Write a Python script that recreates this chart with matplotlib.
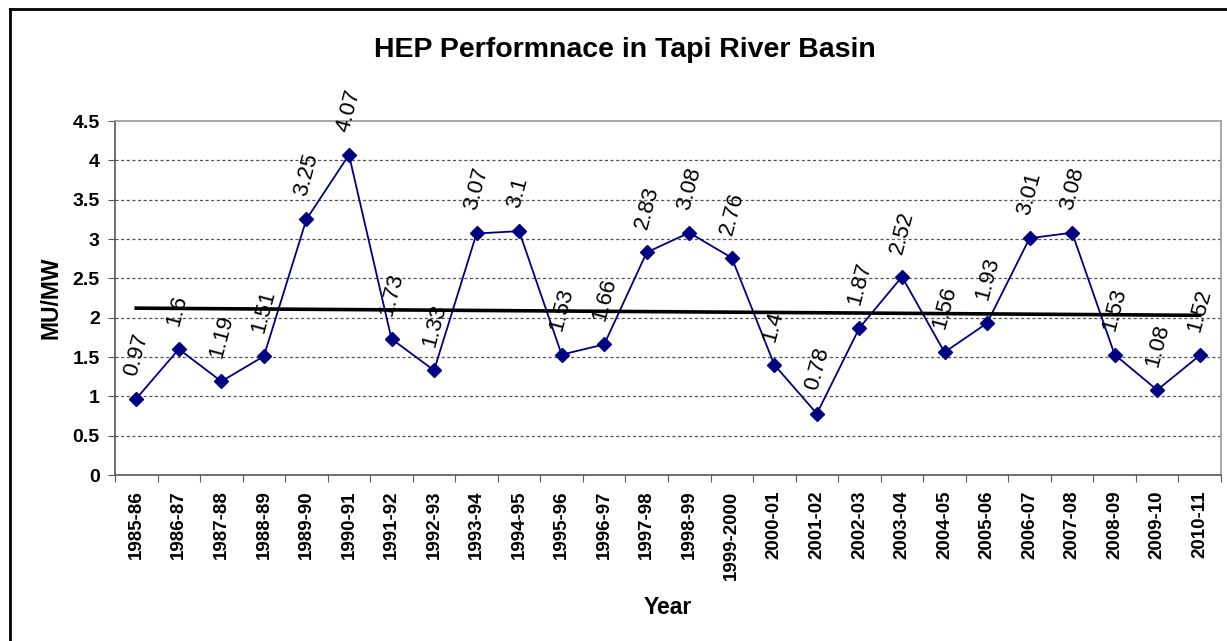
import numpy as np
import matplotlib.pyplot as plt
from matplotlib.lines import Line2D

plt.rcParams['font.family'] = ['Liberation Sans', 'DejaVu Sans']

# HEP performance data (MU/MW) per year
years = ["1985-86", "1986-87", "1987-88", "1988-89", "1989-90", "1990-91",
         "1991-92", "1992-93", "1993-94", "1994-95", "1995-96", "1996-97",
         "1997-98", "1998-99", "1999-2000", "2000-01", "2001-02", "2002-03",
         "2003-04", "2004-05", "2005-06", "2006-07", "2007-08", "2008-09",
         "2009-10", "2010-11"]
values = [0.97, 1.6, 1.19, 1.51, 3.25, 4.07, 1.73, 1.33, 3.07, 3.1, 1.53,
          1.66, 2.83, 3.08, 2.76, 1.4, 0.78, 1.87, 2.52, 1.56, 1.93, 3.01,
          3.08, 1.53, 1.08, 1.52]
labels = ["0.97", "1.6", "1.19", "1.51", "3.25", "4.07", "1.73", "1.33",
          "3.07", "3.1", "1.53", "1.66", "2.83", "3.08", "2.76", "1.4",
          "0.78", "1.87", "2.52", "1.56", "1.93", "3.01", "3.08", "1.53",
          "1.08", "1.52"]

W, H = 1227, 641
fig = plt.figure(figsize=(W / 100, H / 100), dpi=100)
ax = fig.add_axes([115 / W, 1 - 475 / H, (1221 - 115) / W, (475 - 121) / H])

x = np.arange(len(years))
ax.plot(x, values, color='#000080', lw=1.3, marker='D', ms=7, zorder=3)

# linear trend line
slope, intercept = np.polyfit(x, values, 1)
ax.plot(x, slope * x + intercept, color='black', lw=2.6, zorder=4)

for xi, v, lab in zip(x, values, labels):
    ax.annotate(lab, (xi, v), xytext=(-4, 17), textcoords='offset points',
                rotation=75, rotation_mode='anchor', ha='left', va='center',
                fontsize=16, zorder=5)

ax.set_xlim(-0.5, len(years) - 0.5)
ax.set_ylim(0, 4.5)
ax.set_yticks(np.arange(0, 4.51, 0.5))
ax.set_yticklabels(["0", "0.5", "1", "1.5", "2", "2.5", "3", "3.5", "4", "4.5"],
                   fontsize=14, fontweight='bold')
ax.set_xticks(np.arange(-0.5, len(years), 1))
ax.set_xticklabels([])
ax.set_xticks(x, minor=True)
ax.set_xticklabels(years, minor=True, rotation=90, fontsize=13.5,
                   fontweight='bold')
ax.tick_params(axis='x', which='minor', length=0, pad=11)
ax.tick_params(axis='x', which='major', length=5, color='#555555')
ax.tick_params(axis='y', length=5, color='#555555', pad=6)

for yv in np.arange(0.5, 4.01, 0.5):
    ax.axhline(yv, color='#555555', lw=0.9, ls=(0, (2.5, 2)), zorder=1)

for s in ['top', 'right']:
    ax.spines[s].set_color('#999999')
    ax.spines[s].set_linewidth(1.2)
for s in ['left', 'bottom']:
    ax.spines[s].set_color('#555555')
    ax.spines[s].set_linewidth(1.2)

ax.set_xlabel("Year", fontsize=16.5, fontweight='bold', labelpad=12)
ax.set_ylabel("MU/MW", fontsize=16.5, fontweight='bold', labelpad=7)
fig.text(625 / W, 1 - 50 / H, "HEP Performnace in Tapi River Basin",
         ha='center', va='center', fontsize=20.5, fontweight='bold')

# outer chart border
fig.add_artist(Line2D([10 / W, 1.0], [1 - 9 / H, 1 - 9 / H],
                      color='black', lw=2, transform=fig.transFigure))
fig.add_artist(Line2D([10 / W, 10 / W], [1 - 9 / H, 0],
                      color='black', lw=2, transform=fig.transFigure))

fig.savefig("out.png", dpi=100)
